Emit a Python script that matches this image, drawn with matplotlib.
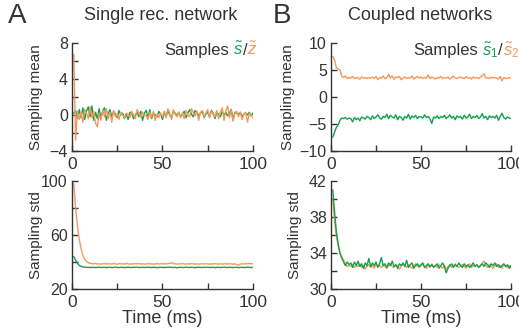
import matplotlib
matplotlib.use("Agg")
import matplotlib.pyplot as plt
import numpy as np
from matplotlib.ticker import FixedLocator
from matplotlib.transforms import offset_copy

plt.rcParams['font.family'] = ['Liberation Sans', 'DejaVu Sans']
plt.rcParams['mathtext.fontset'] = 'custom'
plt.rcParams['mathtext.it'] = 'Liberation Sans:italic'
plt.rcParams['mathtext.rm'] = 'Liberation Sans'

GREEN = '#12a24e'
ORANGE = '#f5985c'
DARK = '#333333'

# one sample per ms
time_ms = np.arange(1, 101)

# panel A, sampling mean
a_mean_green = [
    0.2, 0.5, -0.4, 0.6, -0.3, 0.8, -0.5, 0.4, 0.9, -0.2,
    1.0, -0.6, 0.3, -0.4, 0.7, -0.3, 0.5, 0.8, -0.6, 0.2,
    0.6, -0.2, 0.4, 0.1, -0.3, 0.5, 0.0, 0.2, -0.4, 0.1,
    -0.5, 0.3, 0.2, -0.4, 0.0, 0.3, -0.2, 0.4, -0.6, 0.2,
    0.5, -0.3, 0.6, -0.4, 0.2, 0.0, -0.2, 0.4, 0.1, -0.5,
    0.3, -0.2, 0.5, 0.0, -0.3, 0.4, 0.2, -0.1, 0.3, -0.2,
    0.1, 0.4, -0.3, 0.2, 0.6, 0.1, -0.2, 0.5, 0.3, -0.1,
    0.2, 0.4, -0.3, 0.1, 0.3, -0.2, 0.5, 0.2, -0.4, 0.3,
    0.1, -0.2, 0.4, 0.0, 0.3, -0.1, 0.2, 0.6, -0.5, 0.3,
    0.2, 0.1, 0.3, -0.2, 0.1, 0.2, 0.0, 0.3, -0.1, 0.2]
a_mean_orange = [
    6.7, -2.8, 0.4, -0.5, 0.3, -0.8, 0.6, 0.2, -0.4, 0.9,
    -0.3, 0.4, -0.9, -1.3, 0.2, -0.6, 0.5, -0.2, 0.7, -0.4,
    0.3, -0.8, 0.5, -0.2, 0.1, -0.5, 0.3, 0.0, -0.3, 0.2,
    0.1, -0.3, 0.4, 0.0, -0.4, 0.6, 0.2, -0.2, 0.3, -0.1,
    0.0, -0.5, 0.3, -0.2, 0.4, -0.6, 0.1, -0.3, 0.2, -0.2,
    0.4, -0.3, 0.7, 0.2, -0.5, 0.6, 0.1, -0.2, 0.3, -0.3,
    0.2, -0.4, 0.5, 0.0, -0.2, 0.7, 0.3, -0.1, 0.4, -0.6,
    0.3, 0.5, -0.2, 0.2, 0.6, -0.3, 0.4, 0.1, -0.2, 0.5,
    -0.4, 0.3, 0.8, -0.6, 0.4, 1.0, -0.3, 0.5, -0.7, 0.2,
    0.4, -0.2, 0.3, -0.5, 0.1, 0.3, -0.8, 0.2, 0.0, -0.3]

# panel B, sampling mean
b_mean_orange = [
    7.5, 6.8, 5.4, 5.2, 5.0, 3.8, 3.6, 3.9, 3.4, 3.6,
    3.5, 3.8, 3.4, 3.6, 3.5, 3.3, 3.7, 3.5, 3.6, 3.4,
    3.6, 3.5, 3.7, 3.4, 3.8, 3.2, 3.6, 3.5, 3.9, 3.4,
    3.6, 4.2, 3.5, 3.9, 3.3, 3.7, 3.6, 3.8, 3.2, 3.5,
    3.7, 3.4, 3.6, 3.5, 3.9, 3.3, 3.6, 3.8, 3.5, 3.7,
    3.4, 3.6, 3.5, 4.1, 3.4, 3.7, 3.5, 3.3, 3.6, 3.5,
    3.8, 3.4, 3.6, 3.5, 3.7, 3.3, 3.6, 3.9, 3.5, 3.4,
    3.6, 3.7, 3.5, 3.4, 3.8, 3.5, 3.6, 3.3, 3.7, 3.5,
    3.6, 3.4, 3.7, 3.9, 4.3, 3.5, 3.6, 3.4, 3.7, 3.5,
    3.6, 3.5, 3.3, 3.8, 3.0, 3.6, 3.5, 3.4, 3.6, 3.5]
b_mean_green = [
    -7.4, -6.5, -5.6, -5.2, -4.3, -3.9, -4.0, -3.8, -4.1, -3.9,
    -4.0, -4.6, -3.8, -4.2, -3.9, -4.4, -3.7, -3.9, -4.1, -3.6,
    -3.8, -4.2, -3.5, -4.0, -3.7, -3.3, -3.9, -4.1, -3.6, -3.8,
    -3.2, -4.0, -3.4, -3.7, -3.9, -3.3, -4.2, -3.6, -3.8, -4.3,
    -3.6, -3.9, -3.2, -4.1, -3.5, -3.8, -3.4, -4.0, -3.6, -3.7,
    -3.9, -3.3, -3.8, -3.6, -4.1, -4.9, -3.7, -3.9, -3.5, -4.0,
    -3.6, -3.8, -3.4, -4.0, -3.7, -3.3, -3.9, -3.6, -4.2, -3.5,
    -3.8, -3.6, -4.1, -3.4, -3.9, -3.7, -3.2, -4.0, -3.6, -3.8,
    -3.4, -4.0, -3.7, -3.1, -3.9, -3.6, -4.2, -3.5, -3.8, -3.6,
    -3.9, -3.4, -4.3, -3.6, -3.0, -3.8, -4.1, -3.7, -3.9, -4.0]

# panel A, sampling std
a_std_orange = [
    98.0, 80.0, 67.0, 57.0, 50.0, 45.0, 42.0, 40.5, 39.5, 39.0,
    38.8, 38.6, 38.9, 38.5, 38.7, 38.4, 38.8, 38.6, 38.9, 38.5,
    38.7, 38.5, 38.9, 38.6, 38.4, 38.8, 38.6, 38.7, 38.5, 38.9,
    38.6, 38.4, 38.7, 38.5, 38.8, 38.6, 38.9, 38.5, 38.7, 38.4,
    38.6, 38.8, 38.5, 38.7, 38.4, 38.6, 38.9, 38.5, 38.7, 38.6,
    38.8, 38.5, 38.7, 39.0, 39.4, 38.9, 38.6, 38.4, 38.7, 38.5,
    38.8, 38.6, 38.4, 38.7, 38.5, 38.8, 38.6, 38.5, 38.7, 38.4,
    38.6, 38.8, 38.5, 38.7, 38.6, 38.4, 38.7, 38.5, 38.8, 38.6,
    38.5, 38.7, 38.4, 38.6, 38.8, 38.5, 38.7, 38.6, 38.4, 38.6,
    38.2, 37.6, 38.4, 38.7, 38.5, 38.8, 38.6, 38.9, 38.7, 38.8]
a_std_green = [
    44.0, 41.5, 39.0, 37.5, 36.8, 36.4, 36.2, 36.0, 36.1, 35.9,
    36.0, 36.1, 35.9, 36.0, 36.2, 35.9, 36.0, 36.1, 35.8, 36.0,
    36.1, 35.9, 36.0, 36.2, 36.0, 35.9, 36.1, 36.0, 35.8, 36.0,
    36.1, 36.0, 35.9, 36.1, 36.0, 36.2, 35.9, 36.0, 36.1, 35.9,
    36.0, 36.2, 36.0, 35.9, 36.1, 36.0, 35.8, 36.0, 36.1, 36.0,
    35.9, 36.1, 36.0, 36.2, 36.0, 35.9, 36.1, 35.7, 36.0, 36.1,
    35.9, 36.0, 36.2, 36.0, 35.9, 36.1, 36.0, 35.8, 36.0, 36.1,
    36.0, 35.9, 36.1, 36.0, 36.2, 35.9, 36.0, 36.1, 35.8, 36.0,
    36.1, 35.9, 36.0, 36.2, 36.0, 35.9, 36.1, 36.0, 35.9, 36.0,
    36.1, 35.8, 36.0, 36.1, 35.9, 36.0, 36.2, 36.0, 35.9, 36.0]

# panel B, sampling std
b_std_green = [
    41.0, 38.5, 36.3, 35.0, 34.0, 33.4, 33.0, 32.6, 33.0, 32.7,
    32.9, 32.4, 33.0, 32.6, 33.1, 32.5, 32.8, 32.3, 32.9, 32.6,
    33.4, 32.5, 32.9, 32.6, 33.0, 32.4, 32.8, 33.5, 32.6, 32.8,
    32.4, 32.9, 32.6, 33.1, 32.5, 32.7, 32.3, 32.8, 32.6, 32.9,
    32.5, 33.2, 32.4, 32.7, 32.9, 32.3, 32.6, 32.8, 32.5, 32.7,
    32.9, 32.4, 32.6, 32.8, 32.5, 32.7, 32.4, 32.6, 32.8, 32.3,
    32.6, 32.9, 32.5, 31.8, 32.3, 32.6, 32.8, 32.4, 32.7, 32.5,
    32.9, 32.6, 32.4, 32.8, 32.5, 32.7, 32.4, 32.6, 32.9, 32.5,
    32.7, 32.4, 32.6, 32.8, 32.5, 32.9, 32.7, 32.4, 32.8, 32.6,
    32.9, 32.5, 32.7, 32.4, 32.6, 32.8, 32.5, 32.7, 32.3, 32.6]
b_std_orange = [
    40.0, 37.5, 35.8, 34.8, 33.9, 33.6, 33.2, 32.8, 32.5, 32.6,
    32.5, 32.7, 32.4, 32.6, 32.5, 32.8, 32.4, 32.6, 32.2, 32.5,
    32.7, 32.4, 32.6, 32.3, 32.8, 32.5, 32.6, 32.4, 32.7, 32.5,
    32.3, 32.6, 32.8, 32.5, 32.4, 32.7, 32.6, 32.2, 32.5, 32.8,
    32.6, 32.4, 32.7, 32.5, 32.3, 32.6, 32.8, 32.5, 32.4, 32.6,
    32.7, 32.5, 32.3, 32.6, 32.4, 32.8, 32.5, 32.6, 32.4, 32.7,
    32.5, 32.3, 32.6, 32.2, 32.5, 32.7, 32.4, 32.6, 32.8, 32.5,
    32.4, 32.6, 32.7, 32.5, 32.3, 32.6, 32.8, 32.4, 32.6, 32.5,
    32.7, 32.4, 32.6, 32.9, 33.1, 32.6, 32.4, 32.7, 32.5, 32.3,
    32.6, 32.8, 32.4, 32.6, 32.3, 32.7, 32.5, 32.4, 32.6, 32.3]

fig = plt.figure(figsize=(5.19, 3.35), dpi=100)

# axes boxes in figure fraction
ax_a1 = fig.add_axes([0.1387, 0.5493, 0.3487, 0.3224])
ax_b1 = fig.add_axes([0.6378, 0.5493, 0.3468, 0.3224])
ax_a2 = fig.add_axes([0.1387, 0.1373, 0.3487, 0.3224])
ax_b2 = fig.add_axes([0.6378, 0.1373, 0.3468, 0.3224])


def style(ax, ylim, major, minor=None):
    ax.set_xlim(0, 100)
    ax.set_ylim(*ylim)
    ax.xaxis.set_major_locator(FixedLocator([0, 50, 100]))
    ax.xaxis.set_minor_locator(FixedLocator([25, 75]))
    ax.yaxis.set_major_locator(FixedLocator(major))
    if minor is not None:
        ax.yaxis.set_minor_locator(FixedLocator(minor))
    for s in ['top', 'right']:
        ax.spines[s].set_visible(False)
    for s in ['left', 'bottom']:
        ax.spines[s].set_color(DARK)
        ax.spines[s].set_linewidth(1.0)
    ax.tick_params(which='both', direction='in', colors=DARK, width=1.0, length=4)
    ax.tick_params(axis='x', labelsize=12.5, pad=4)
    ax.tick_params(axis='y', labelsize=11.5, pad=3)
    ax.yaxis.set_label_coords(-0.16, 0.5)


ax_a1.plot(time_ms, a_mean_green, color=GREEN, lw=1.0)
ax_a1.plot(time_ms, a_mean_orange, color=ORANGE, lw=1.0)
style(ax_a1, (-4, 8), [-4, 0, 4, 8], [-2, 2, 6])
ax_a1.set_ylabel('Sampling mean', fontsize=11, color=DARK)

ax_b1.plot(time_ms, b_mean_orange, color=ORANGE, lw=1.0)
ax_b1.plot(time_ms, b_mean_green, color=GREEN, lw=1.0)
style(ax_b1, (-10, 10), [-10, -5, 0, 5, 10])
ax_b1.set_ylabel('Sampling mean', fontsize=11, color=DARK)
ax_b1.yaxis.set_label_coords(-0.2, 0.5)

ax_a2.plot(time_ms, a_std_green, color=GREEN, lw=1.0)
ax_a2.plot(time_ms, a_std_orange, color=ORANGE, lw=1.0)
style(ax_a2, (20, 100), [20, 60, 100], [40, 80])
ax_a2.set_ylabel('Sampling std', fontsize=11, color=DARK)
ax_a2.set_xlabel('Time (ms)', fontsize=13, color=DARK, labelpad=0)

ax_b2.plot(time_ms, b_std_orange, color=ORANGE, lw=1.0)
ax_b2.plot(time_ms, b_std_green, color=GREEN, lw=1.0)
style(ax_b2, (30, 42), [30, 34, 38, 42], [32, 36, 40])
ax_b2.set_ylabel('Sampling std', fontsize=11, color=DARK)
ax_b2.set_xlabel('Time (ms)', fontsize=13, color=DARK, labelpad=0)

# panel letters and titles
fig.text(0.016, 0.93, 'A', fontsize=20, color=DARK)
fig.text(0.526, 0.93, 'B', fontsize=20, color=DARK)
fig.text(0.31, 0.955, 'Single rec. network', fontsize=13, color=DARK, ha='center', va='center')
fig.text(0.81, 0.955, 'Coupled networks', fontsize=13, color=DARK, ha='center', va='center')


def sample_label(ax, pieces, x_right, y_base):
    texts = [ax.text(x_right, y_base, s, color=c, fontsize=12, ha='left', va='baseline',
                     transform=ax.transAxes) for s, c in pieces]
    fig.canvas.draw()
    r = fig.canvas.get_renderer()
    widths = [t.get_window_extent(r).width for t in texts]
    widths[0] += 4  # gap after "Samples"
    total = sum(widths)
    off = -total
    for t, w in zip(texts, widths):
        t.set_transform(offset_copy(ax.transAxes, fig=fig, x=off, y=0, units='dots'))
        off += w


sample_label(ax_a1, [('Samples', DARK), (r'$\tilde{s}$', GREEN), ('/', DARK), (r'$\tilde{z}$', ORANGE)],
             1.025, 0.89)
sample_label(ax_b1, [('Samples', DARK), (r'$\tilde{s}_1$', GREEN), ('/', DARK), (r'$\tilde{s}_2$', ORANGE)],
             1.045, 0.89)

fig.savefig('out.png', dpi=100)
